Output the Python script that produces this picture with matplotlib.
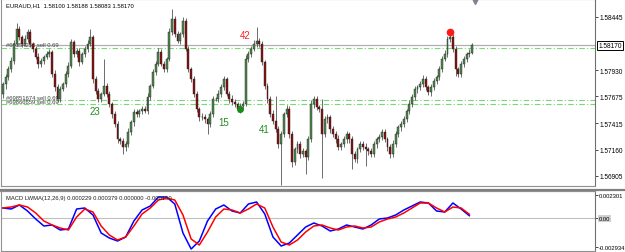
import numpy as np
import matplotlib.pyplot as plt
from matplotlib.lines import Line2D

FONT = ['Liberation Sans Narrow', 'Liberation Sans', 'DejaVu Sans']
plt.rcParams['font.family'] = FONT

# EURAUD H1 closes (first open given separately)
first_open = 1.57700
closes = [
    1.57796, 1.57864, 1.57941, 1.58019, 1.58183, 1.58329, 1.58251, 1.58183, 1.58232, 1.58300,
    1.58183, 1.58135, 1.58057, 1.57990, 1.58019, 1.58057, 1.58086, 1.58106, 1.57893, 1.57767,
    1.57650, 1.57747, 1.57796, 1.57893, 1.57970, 1.58203, 1.58086, 1.58116, 1.58009, 1.58086,
    1.58135, 1.58183, 1.58251, 1.57844, 1.57728, 1.57650, 1.57699, 1.57776, 1.57699, 1.57602,
    1.57505, 1.57408, 1.57263, 1.57243, 1.57185,
    1.57214, 1.57331, 1.57428, 1.57524, 1.57505, 1.57534, 1.57553, 1.57534, 1.57670, 1.57776,
    1.57912, 1.57990, 1.58106, 1.57990, 1.57941, 1.58038, 1.58300, 1.58426, 1.58280, 1.58212,
    1.58280, 1.58406, 1.58135, 1.57941, 1.57844, 1.57699, 1.57553, 1.57476, 1.57476, 1.57457,
    1.57408, 1.57505, 1.57650, 1.57650, 1.57699, 1.57767, 1.57844, 1.57699, 1.57650, 1.57621,
    1.57602, 1.57553, 1.57583,
    1.57602, 1.58038, 1.58086, 1.58135, 1.58183, 1.58212, 1.58183, 1.58009, 1.57776, 1.57650,
    1.57505, 1.57437, 1.57360, 1.57214, 1.57311, 1.57505, 1.57553, 1.57311, 1.57040, 1.57166,
    1.57214, 1.57117, 1.57147, 1.57088, 1.57263, 1.57602, 1.57650, 1.57573, 1.57553, 1.57311,
    1.57457, 1.57476, 1.57360, 1.57311, 1.57263, 1.57185, 1.57214, 1.57263, 1.57311, 1.57263,
    1.57117, 1.57069, 1.57166, 1.57214,
    1.57185, 1.57166, 1.57147, 1.57117, 1.57214, 1.57263, 1.57282, 1.57331, 1.57263, 1.57185,
    1.57117, 1.57214, 1.57311, 1.57379, 1.57408, 1.57457, 1.57534, 1.57602, 1.57670, 1.57747,
    1.57767, 1.57796, 1.57844, 1.57767, 1.57718, 1.57767, 1.57825, 1.57864, 1.57941, 1.58038,
    1.58086, 1.58232, 1.58251, 1.58135, 1.57941, 1.57893, 1.57990, 1.58038, 1.58086, 1.58100,
    1.58170,
]

# wick length above / below the body, in points (0.00001)
hi_pts = [
    20, 30, 25, 40, 35, 58, 30, 20, 35, 25,
    30, 20, 25, 40, 30, 20, 25, 30, 20, 35,
    25, 30, 20, 25, 35, 30, 20, 25, 30, 20,
    25, 35, 78, 20, 30, 25, 20, 260, 30, 25,
    20, 30, 25, 20, 30, 25, 35, 20, 30, 25,
    20, 30, 25, 35, 20, 30, 25, 40, 30, 25,
    20, 35, 97, 30, 25, 20, 40, 30, 25, 20,
    30, 25, 20, 35, 30, 20, 25, 30, 20, 35,
    25, 30, 20, 25, 35, 30, 20, 25, 30, 40,
    25, 30, 35, 136, 30, 25, 20, 30, 25, 35,
    240, 30, 25, 20, 35, 30, 25, 20, 30, 25,
    30, 20, 25, 40, 30, 25, 20, 97, 30, 25,
    20, 30, 25, 35, 20, 30, 25, 20, 30, 25,
    20, 30, 25, 35, 20, 30, 25, 20, 30, 25,
    30, 20, 25, 35, 30, 20, 25, 30, 20, 35,
    25, 30, 20, 25, 35, 30, 20, 25, 30, 20,
    25, 30, 35, 25, 20, 30, 25, 20, 30, 25,
    20, 30, 18,
]
lo_pts = [
    40, 50, 30, 25, 30, 20, 25, 30, 20, 25,
    30, 25, 20, 35, 30, 25, 20, 30, 25, 35,
    30, 25, 20, 30, 25, 20, 30, 25, 35, 20,
    25, 30, 20, 35, 30, 25, 30, 20, 25, 30,
    35, 30, 40, 30, 70, 40, 30, 25, 35, 30,
    25, 30, 20, 30, 25, 20, 30, 25, 20, 30,
    25, 20, 30, 25, 20, 30, 25, 20, 30, 25,
    30, 25, 35, 30, 40, 97, 30, 25, 20, 30,
    25, 30, 20, 35, 30, 25, 30, 40, 25, 20,
    30, 25, 20, 30, 25, 30, 25, 35, 30, 25,
    30, 35, 400, 30, 25, 40, 50, 30, 35, 40,
    30, 165, 25, 30, 35, 30, 25, 430, 30, 35,
    40, 30, 35, 30, 25, 30, 35, 40, 145, 30,
    35, 30, 25, 165, 40, 30, 25, 35, 30, 25,
    30, 35, 40, 30, 25, 30, 35, 25, 30, 25,
    30, 25, 35, 30, 25, 30, 25, 35, 30, 25,
    30, 25, 20, 30, 25, 30, 68, 30, 25, 30,
    25, 30, 17,
]

# MACD LWMA(12,26,9), read every 3rd bar
macd_main = [
    0.0010, 0.0009, 0.0013, 0.0007, -0.0001, -0.0008, -0.0007, -0.0012, -0.0011, 0.0009,
    0.0010, 0.0003, -0.0015, -0.0020, -0.0023, -0.0019, -0.0003, 0.0008, 0.0012, 0.0021,
    0.0021, 0.0014, -0.0015, -0.0031, -0.0023, -0.0003, 0.0009, 0.0013, 0.0007, 0.0005,
    0.0014, 0.0016, 0.0004, -0.0019, -0.0028, -0.0025, -0.0017, -0.0009, -0.0005, -0.0008,
    -0.0013, -0.0011, -0.0007, -0.0009, -0.0011, -0.0007, -0.0001, 0.0000, 0.0003, 0.0008,
    0.0012, 0.0016, 0.0015, 0.0007, 0.0006, 0.0015, 0.0009, 0.00023,
]
macd_signal = [
    0.0010, 0.0011, 0.0013, 0.0011, 0.0005, -0.0003, -0.0007, -0.0010, -0.0012, 0.0001,
    0.0009, 0.0006, -0.0008, -0.0017, -0.0022, -0.0019, -0.0008, 0.0004, 0.0010, 0.0018,
    0.0020, 0.0018, 0.0003, -0.0021, -0.0027, -0.0014, 0.0001, 0.0009, 0.0008, 0.0005,
    0.0009, 0.0014, 0.0010, -0.0009, -0.0024, -0.0027, -0.0022, -0.0014, -0.0008, -0.0007,
    -0.0010, -0.0012, -0.0009, -0.0008, -0.0010, -0.0009, -0.0004, -0.0001, 0.0001, 0.0005,
    0.0010, 0.0015, 0.0015, 0.0010, 0.0006, 0.0011, 0.0010, 0.00038,
]

price_ticks = [1.58445, 1.57930, 1.57675, 1.57415, 1.57160, 1.56905]
bid = 1.58170
order_lines = [1.58145, 1.57644, 1.57599]
order_labels = [(1.58174, '#69354253 sell 0.69'),
                (1.57660, '#69851674 sell 0.69'),
                (1.57630, '#69866659 sell 0.69')]
wave_labels = [(33.7, 1.57534, '23', '#228b22'), (81.0, 1.57428, '15', '#228b22'),
               (95.7, 1.57360, '41', '#228b22'), (88.7, 1.58266, '42', '#ff2020')]
green_dot = (87, 1.57553)
red_dot = (164, 1.58300)

closes = np.array(closes)
n = len(closes)
x = np.arange(n)
opens = np.concatenate([[first_open], closes[:-1]])
highs = np.maximum(opens, closes) + np.array(hi_pts) * 1e-5
lows = np.minimum(opens, closes) - np.array(lo_pts) * 1e-5

fig = plt.figure(figsize=(6.25, 2.53), dpi=100)
ax = fig.add_axes([1 / 625, 1 - 187 / 253, 594 / 625, 187 / 253])
axm = fig.add_axes([1 / 625, 1 / 253, 594 / 625, 60 / 253])

xl = (-0.73, 217.1)
for a in (ax, axm):
    a.set_xlim(*xl)
    a.set_xticks([])
    a.yaxis.tick_right()
    a.tick_params(axis='y', labelsize=4.7, length=2, width=0.5, pad=1, colors='black')
    for s in a.spines.values():
        s.set_color('#909090')
        s.set_linewidth(0.8)
    a.spines['right'].set_color('#707070')

ax.set_ylim(1.56807, 1.58619)
ax.set_yticks(price_ticks)
ax.set_yticklabels([f'{v:.5f}' for v in price_ticks])

# order / bid lines
ax.axhline(bid, color='#b0b0b0', lw=0.9, zorder=1)
for lv in order_lines:
    ax.axhline(lv, color='#7ad67a', lw=0.8, ls=(0, (5, 2, 1, 2)), zorder=1)
for yv, t in order_labels:
    ax.text(1.0, yv, t, fontsize=4.2, color='#404040', va='center', ha='left', zorder=2)

# candles
ax.vlines(x, lows, highs, color='#555555', lw=0.6, zorder=3)
up = closes >= opens
body_bot = np.minimum(opens, closes)
body_h = np.maximum(np.abs(closes - opens), 0.00003)
ax.bar(x, body_h, bottom=body_bot, width=0.7,
       color=np.where(up, '#4e8a4e', '#8b1010'), edgecolor='#202020', linewidth=0.3, zorder=4)

ax.plot(*green_dot, 'o', color='#1a8a1a', ms=4, zorder=5)
ax.plot(*red_dot, 'o', color='#ff1a1a', ms=4.5, zorder=5)
for xi, yv, t, c in wave_labels:
    ax.text(xi, yv, t, fontsize=7, color=c, ha='center', va='center', zorder=6)

ax.plot([173], [1.58600], marker='v', color='#808090', ms=4, clip_on=False, zorder=6)
ax.text(1.0, 1.58560, 'EURAUD,H1  1.58100 1.58188 1.58083 1.58170', fontsize=4.2,
        color='black', va='center', ha='left')
ax.text(218.3, bid, f'{bid:.5f}', fontsize=4.7, va='center', ha='left', clip_on=False,
        bbox=dict(boxstyle='square,pad=0.15', fc='white', ec='black', lw=0.7))

# MACD panel
midx = np.arange(len(macd_main)) * 3
axm.set_ylim(-0.0033, 0.0027)
axm.axhline(0, color='#c0c0c0', lw=0.8)
axm.plot(midx, macd_main, color='#0000ff', lw=1.1)
axm.plot(midx, macd_signal, color='#ff0000', lw=1.1)
axm.set_yticks([0.002301, 0.0, -0.00288])
axm.set_yticklabels(['0.002301', '0.00', '-0.002934'])
axm.tick_params(axis='y', labelsize=4.2, pad=0.8)
axm.get_yticklabels()[1].set_bbox(dict(boxstyle='square,pad=0.1', fc='#d0d0d0', ec='none'))
axm.text(1.0, 0.00205, 'MACD LWMA(12,26,9) 0.000229 0.000379 0.000000 -0.000150',
         fontsize=4.2, color='#202020', va='center', ha='left')
axm.spines['top'].set_linewidth(1.6)

fig.add_artist(Line2D([0, 1], [1 - 190.5 / 253] * 2, color='#808080', lw=1.6))

fig.savefig('out.png', dpi=100)
